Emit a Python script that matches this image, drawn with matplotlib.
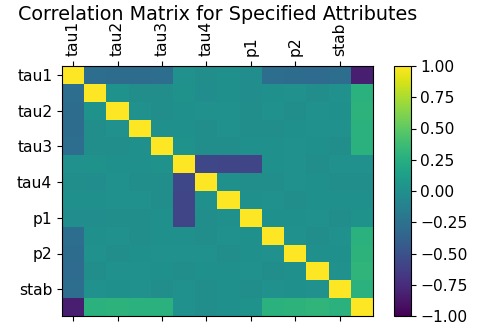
import numpy as np
import matplotlib
matplotlib.use("Agg")
import matplotlib.pyplot as plt

# correlation values (14 x 14, symmetric)
row_x  = [ 1.00, -0.28, -0.29, -0.29, -0.28,  0.01, -0.01,  0.00, -0.02, -0.28, -0.29, -0.30, -0.28, -0.83]
row_t1 = [-0.28,  1.00,  0.02, -0.01, -0.01,  0.03, -0.02,  0.00, -0.02,  0.00,  0.01, -0.01,  0.01,  0.28]
row_t2 = [-0.29,  0.02,  1.00,  0.01, -0.01,  0.00,  0.01,  0.01, -0.01,  0.01, -0.01,  0.01,  0.00,  0.29]
row_t3 = [-0.29, -0.01,  0.01,  1.00,  0.00,  0.00, -0.01,  0.01, -0.01, -0.01,  0.00,  0.01,  0.01,  0.28]
row_t4 = [-0.28, -0.01, -0.01,  0.00,  1.00,  0.02, -0.01, -0.01,  0.00,  0.00,  0.01,  0.00, -0.01,  0.28]
row_p1 = [ 0.01,  0.03,  0.00,  0.00,  0.02,  1.00, -0.57, -0.58, -0.58,  0.00,  0.01, -0.01,  0.01,  0.01]
row_p2 = [-0.01, -0.02,  0.01, -0.01, -0.01, -0.57,  1.00,  0.00, -0.01, -0.01,  0.01,  0.00, -0.01, -0.01]
row_p3 = [ 0.00,  0.00,  0.01,  0.01, -0.01, -0.58,  0.00,  1.00,  0.00,  0.01, -0.01,  0.00,  0.00,  0.00]
row_p4 = [-0.02, -0.02, -0.01, -0.01,  0.00, -0.58, -0.01,  0.00,  1.00,  0.00,  0.00,  0.01, -0.01,  0.02]
row_g1 = [-0.28,  0.00,  0.01, -0.01,  0.00,  0.00, -0.01,  0.01,  0.00,  1.00,  0.01, -0.01,  0.01,  0.28]
row_g2 = [-0.29,  0.01, -0.01,  0.00,  0.01,  0.01,  0.01, -0.01,  0.00,  0.01,  1.00,  0.00,  0.00,  0.29]
row_g3 = [-0.30, -0.01,  0.01,  0.01,  0.00, -0.01,  0.00,  0.00,  0.01, -0.01,  0.00,  1.00,  0.01,  0.31]
row_g4 = [-0.28,  0.01,  0.00,  0.01, -0.01,  0.01, -0.01,  0.00, -0.01,  0.01,  0.00,  0.01,  1.00,  0.28]
row_s  = [-0.83,  0.28,  0.29,  0.28,  0.28,  0.01, -0.01,  0.00,  0.02,  0.28,  0.29,  0.31,  0.28,  1.00]

tick_labels = ['tau1', 'tau2', 'tau3', 'tau4', 'p1', 'p2', 'stab']

corr = np.array([row_x, row_t1, row_t2, row_t3, row_t4,
                 row_p1, row_p2, row_p3, row_p4,
                 row_g1, row_g2, row_g3, row_g4, row_s])

fig = plt.figure(figsize=(4.79, 3.28), dpi=100)
ax = fig.add_axes([62/479, 1-316/328, 311/479, 250/328])
cax = fig.add_axes([394/479, 1-316/328, 16.7/479, 250/328])

im = ax.matshow(corr, cmap='viridis', vmin=-1, vmax=1, aspect='auto')

# only every other position gets a label, as in the original
ticks = np.arange(0, len(corr), 2)
ax.set_xticks(ticks)
ax.set_yticks(ticks)
ax.set_xticklabels(tick_labels, rotation=90, fontsize=11.2)
ax.set_yticklabels(tick_labels, fontsize=11.2)

cb = fig.colorbar(im, cax=cax)
cb.set_ticks([-1, -0.75, -0.5, -0.25, 0, 0.25, 0.5, 0.75, 1])
cb.ax.tick_params(labelsize=11.2)

fig.text(217.5/479, 1-20/328, 'Correlation Matrix for Specified Attributes',
         ha='center', va='baseline', fontsize=13.8)

fig.savefig('out.png', dpi=100)
